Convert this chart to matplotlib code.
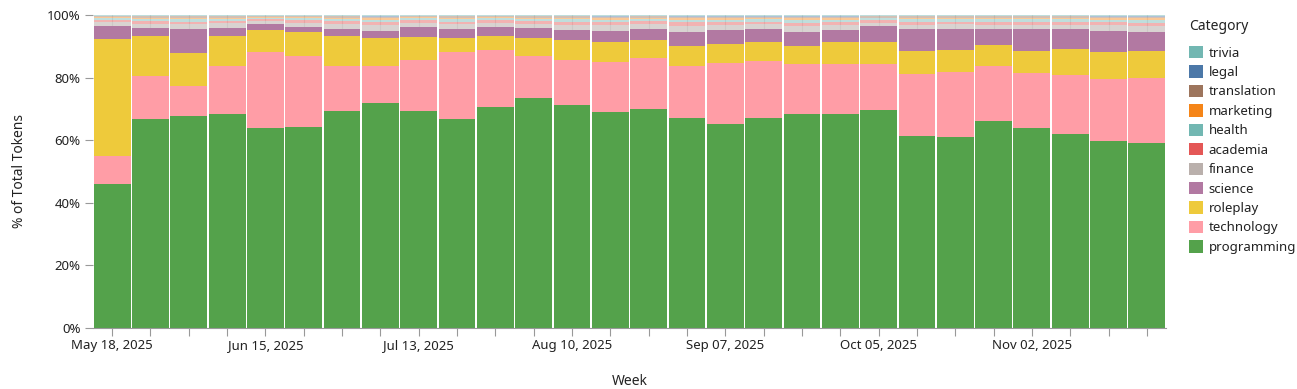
import matplotlib
matplotlib.use("Agg")
import matplotlib.pyplot as plt
import numpy as np
import pandas as pd
from matplotlib.patches import Patch

plt.rcParams['font.family'] = ['Noto Sans', 'DejaVu Sans']

weeks = pd.date_range("2025-05-18", periods=28, freq="7D")

programming = [46.0, 66.7, 67.6, 68.2, 64.0, 64.2, 69.2, 71.8, 69.4, 66.6, 70.7, 73.6, 71.2, 68.9,
               70.0, 67.0, 65.1, 67.0, 68.2, 68.4, 69.5, 61.2, 60.9, 66.0, 63.9, 61.9, 59.6, 59.0]
technology = [9.0, 13.7, 9.6, 15.4, 24.3, 22.8, 14.6, 11.9, 16.2, 21.5, 18.1, 13.3, 14.4, 16.2,
              16.1, 16.8, 19.5, 18.2, 16.1, 15.8, 14.9, 19.9, 20.9, 17.7, 17.5, 18.9, 20.0, 20.9]
roleplay = [37.2, 12.8, 10.5, 9.7, 7.0, 7.5, 9.6, 8.8, 7.5, 4.6, 4.5, 5.6, 6.3, 6.2,
            5.8, 6.4, 6.0, 6.1, 5.9, 7.1, 7.0, 7.5, 7.0, 6.7, 7.0, 8.3, 8.5, 8.7]
science = [4.3, 2.5, 7.7, 2.5, 1.8, 1.8, 2.2, 2.5, 3.2, 2.7, 3.0, 3.2, 3.3, 3.6,
           3.6, 4.5, 4.5, 4.1, 4.4, 3.9, 5.2, 6.8, 6.7, 5.1, 7.0, 6.3, 6.9, 6.1]
finance = [1.2, 1.5, 1.6, 1.5, 1.0, 1.3, 1.5, 1.8, 1.3, 1.6, 1.2, 1.5, 1.7, 1.8,
           1.6, 1.9, 1.7, 1.6, 1.9, 1.7, 1.0, 1.5, 1.5, 1.4, 1.5, 1.5, 1.7, 1.8]
academia = [0.7, 0.9, 0.9, 0.8, 0.6, 0.7, 0.9, 1.0, 0.7, 0.9, 0.8, 0.9, 1.0, 1.0,
            0.9, 1.1, 1.0, 0.9, 1.1, 0.9, 0.7, 0.9, 0.9, 1.0, 0.9, 1.0, 1.0, 1.1]
health = [0.5, 0.6, 0.7, 0.6, 0.4, 0.6, 0.7, 0.7, 0.6, 0.7, 0.6, 0.6, 0.7, 0.8,
          0.7, 0.8, 0.7, 0.7, 0.8, 0.7, 0.6, 0.8, 0.7, 0.7, 0.8, 0.7, 0.8, 0.8]
marketing = [0.4, 0.4, 0.5, 0.4, 0.3, 0.4, 0.4, 0.5, 0.4, 0.5, 0.4, 0.4, 0.5, 0.5,
             0.4, 0.5, 0.5, 0.5, 0.5, 0.5, 0.3, 0.5, 0.5, 0.5, 0.5, 0.5, 0.5, 0.5]
translation = [0.4, 0.5, 0.5, 0.5, 0.3, 0.4, 0.5, 0.5, 0.4, 0.5, 0.4, 0.5, 0.5, 0.5,
               0.5, 0.5, 0.5, 0.4, 0.6, 0.5, 0.4, 0.5, 0.5, 0.5, 0.5, 0.5, 0.5, 0.6]
legal = [0.1, 0.2, 0.2, 0.2, 0.1, 0.1, 0.2, 0.2, 0.1, 0.2, 0.1, 0.2, 0.2, 0.2,
         0.2, 0.2, 0.2, 0.2, 0.2, 0.2, 0.2, 0.2, 0.2, 0.2, 0.2, 0.2, 0.2, 0.2]
trivia = [0.2, 0.2, 0.2, 0.2, 0.2, 0.2, 0.2, 0.3, 0.2, 0.2, 0.2, 0.2, 0.2, 0.3,
          0.2, 0.3, 0.3, 0.3, 0.3, 0.3, 0.2, 0.2, 0.2, 0.2, 0.2, 0.2, 0.3, 0.3]

categories = ["programming", "technology", "roleplay", "science", "finance", "academia",
              "health", "marketing", "translation", "legal", "trivia"]
series = [programming, technology, roleplay, science, finance, academia,
          health, marketing, translation, legal, trivia]
colors = ["#54a24b", "#ff9da6", "#eeca3b", "#b279a2", "#bab0ac", "#e45756",
          "#72b7b2", "#f58518", "#9d755d", "#4c78a8", "#72b7b2"]
alphas = [1, 1, 1, 1, 0.55, 0.45, 0.45, 0.45, 0.45, 0.45, 0.45]

data = np.array(series, dtype=float)
pct = data / data.sum(axis=0) * 100

fig = plt.figure(figsize=(12.97, 3.89), dpi=100)
ax = fig.add_axes([93/1297, 1 - 327.7/389, (1166 - 93)/1297, (327.7 - 15)/389])

x = np.arange(len(weeks))
ax.set_xlim(-0.5, len(weeks) - 0.5)
ax.set_ylim(0, 100)

for xi in x:
    ax.axvline(xi, color="#e6e6e6", lw=0.8, zorder=0)

bottom = np.zeros(len(weeks))
for cat, vals, col, al in zip(categories, pct, colors, alphas):
    ax.bar(x, vals, bottom=bottom, width=0.96, color=col, alpha=al, lw=0, zorder=2)
    bottom += vals

for s in ["top", "right", "left"]:
    ax.spines[s].set_visible(False)
ax.spines["bottom"].set_color("#999999")
ax.spines["bottom"].set_linewidth(0.8)
ax.spines["bottom"].set_zorder(3)

ax.set_xticks(x)
ax.set_xticklabels([d.strftime("%b %d, %Y") if i % 4 == 0 else "" for i, d in enumerate(weeks)])
ax.set_yticks([0, 20, 40, 60, 80, 100])
ax.set_yticklabels([f"{v}%" for v in [0, 20, 40, 60, 80, 100]])
ax.tick_params(axis="both", colors="#999999", labelcolor="#222222", labelsize=9.5, length=6, width=0.8)
ax.tick_params(axis="x", pad=2)
ax.tick_params(axis="y", pad=3)

ax.set_xlabel("Week", fontsize=10, fontweight="bold", color="#222222", labelpad=16)
ax.set_ylabel("% of Total Tokens", fontsize=10, fontweight="bold", color="#222222", labelpad=14)

fig.text(1189/1297, 1 - 26/389, "Category", fontsize=10, fontweight="bold",
         color="#222222", ha="left", va="center")

handles = [Patch(facecolor=c, edgecolor="none", alpha=1.0) for c in colors]
leg = fig.legend(handles[::-1], categories[::-1], loc="upper left",
                 bbox_to_anchor=(1189/1297, 1 - 46/389), frameon=False,
                 fontsize=9.5, handlelength=1.05, handleheight=1.05, handletextpad=0.45,
                 labelspacing=0.44, borderaxespad=0, borderpad=0)
for t in leg.get_texts():
    t.set_color("#222222")

fig.savefig("out.png", dpi=100)
